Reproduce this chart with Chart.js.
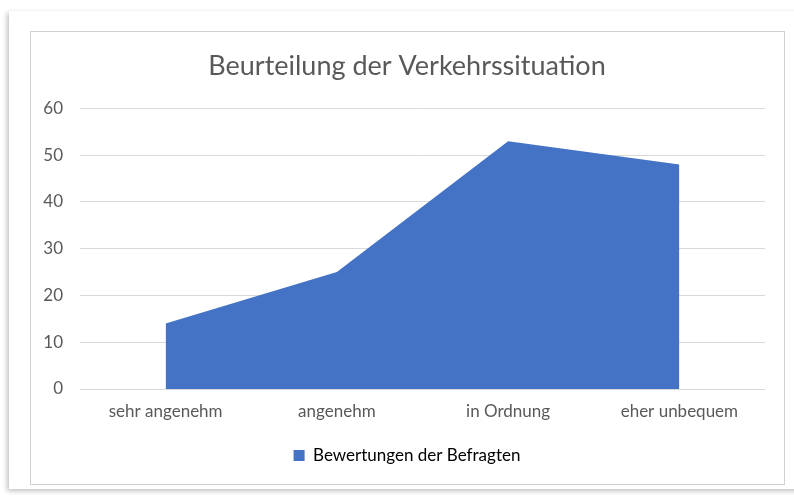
<!DOCTYPE html>
<html>
<head>
<meta charset="utf-8">
<script src="https://cdn.jsdelivr.net/npm/chart.js@4/dist/chart.umd.min.js"></script>
<style>
  body { margin: 0; background: #fff; width: 794px; height: 499px; overflow: hidden; }
  .card { position: absolute; left: 9px; top: 11px; width: 800px; height: 478px; background: #fff;
          box-shadow: -2px 2px 5px rgba(0,0,0,0.25); }
  .box { position: absolute; left: 30px; top: 31px; width: 753px; height: 452px; border: 1px solid #d0d0d0; background: #fff; }
</style>
</head>
<body>
<div class="card"></div>
<div class="box"><canvas id="myChart" width="753" height="452"></canvas></div>
<script>
var categories = ['sehr angenehm', 'angenehm', 'in Ordnung', 'eher unbequem'];
var values = [14, 25, 53, 48];
var seriesName = 'Bewertungen der Befragten';
var yTicks = [0, 10, 20, 30, 40, 50, 60];

var areaChart;

function chart1(){
  var ctx = document.getElementById('myChart');
  areaChart = new Chart(ctx, {
    type: 'line',
    data: {
      labels: categories,
      datasets: [{
        label: seriesName,
        data: values,
        fill: 'origin',
        backgroundColor: '#4472c4',
        borderColor: '#4472c4',
        borderWidth: 0,
        pointRadius: 0,
        tension: 0
      }]
    },
    options: {
      responsive: false,
      animation: false,
      layout: { padding: { left: 9, right: 10, top: 10, bottom: 10 } },
      plugins: {
        title: {
          display: true,
          text: 'Beurteilung der Verkehrssituation',
          color: '#595959',
          font: { family: 'Lato', size: 27, weight: 'normal' },
          padding: { top: 8, bottom: 26 }
        },
        legend: {
          position: 'bottom',
          labels: {
            color: '#595959',
            font: { family: 'Lato', size: 17 },
            boxWidth: 11, boxHeight: 11,
            padding: 4,
            generateLabels: function(chart){
              return [{ text: seriesName, fillStyle: '#4472c4', strokeStyle: '#4472c4', lineWidth: 0, datasetIndex: 0 }];
            }
          }
        },
        tooltip: { enabled: false }
      },
      scales: {
        x: {
          offset: true,
          afterFit: function(axis){ axis.height = 54; },
          grid: { display: false, drawTicks: false },
          border: { display: false },
          ticks: { color: '#595959', font: { family: 'Lato', size: 17 }, padding: 12, maxRotation: 0 }
        },
        y: {
          min: 0, max: 60,
          afterBuildTicks: function(axis){ axis.ticks = yTicks.map(function(v){ return { value: v }; }); },
          afterFit: function(axis){ axis.width = 40; },
          grid: { color: '#d9d9d9', lineWidth: 1, drawTicks: false },
          border: { display: false },
          ticks: { color: '#595959', font: { family: 'Lato', size: 17 }, padding: 17 }
        },
        // empty right-hand spacer so the plot ends where the reference does
        spacer: {
          type: 'linear',
          position: 'right',
          min: 0, max: 60,
          afterFit: function(axis){ axis.width = 9; },
          grid: { display: false, drawTicks: false },
          border: { display: false },
          ticks: { display: false }
        }
      }
    }
  });
}

window.onload = function(){
  chart1();
};
</script>
</body>
</html>
